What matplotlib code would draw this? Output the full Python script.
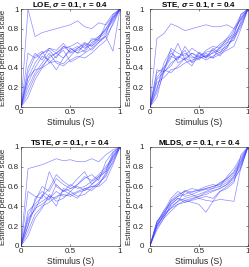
import numpy as np
from matplotlib import pyplot as plt

plt.rcParams['font.family'] = ['Liberation Sans', 'DejaVu Sans']
plt.rcParams['mathtext.fontset'] = 'custom'
plt.rcParams['mathtext.it'] = 'Liberation Sans:italic:bold'

stimulus = np.linspace(0, 1, 15)

titles = ["LOE", "STE", "TSTE", "MLDS"]
sigma = 0.1
r = 0.4

loe = [
    [0, 1.00, 0.72, 0.76, 0.78, 0.80, 0.82, 0.84, 0.88, 0.82, 0.80, 0.86, 0.84, 0.92, 1.0],
    [0, 0.30, 0.45, 0.55, 0.58, 0.50, 0.62, 0.60, 0.55, 0.65, 0.62, 0.70, 0.80, 0.90, 1.0],
    [0, 0.25, 0.40, 0.52, 0.48, 0.38, 0.50, 0.60, 0.55, 0.58, 0.70, 0.68, 0.85, 0.95, 1.0],
    [0, 0.55, 0.50, 0.55, 0.60, 0.55, 0.60, 0.62, 0.66, 0.60, 0.64, 0.72, 0.78, 0.88, 1.0],
    [0, 0.35, 0.52, 0.57, 0.45, 0.52, 0.58, 0.46, 0.50, 0.55, 0.60, 0.66, 0.74, 0.94, 1.0],
    [0, 0.20, 0.35, 0.45, 0.55, 0.45, 0.42, 0.48, 0.52, 0.50, 0.55, 0.62, 0.68, 0.86, 1.0],
    [0, 0.15, 0.32, 0.42, 0.50, 0.55, 0.62, 0.56, 0.60, 0.66, 0.62, 0.68, 0.72, 0.57, 1.0],
    [0, 0.30, 0.38, 0.40, 0.45, 0.47, 0.44, 0.52, 0.60, 0.64, 0.58, 0.66, 0.72, 0.84, 1.0],
    [0, 0.10, 0.28, 0.40, 0.52, 0.55, 0.50, 0.58, 0.62, 0.56, 0.66, 0.70, 0.76, 0.90, 1.0],
    [0, 0.40, 0.55, 0.48, 0.60, 0.58, 0.65, 0.55, 0.58, 0.62, 0.68, 0.72, 0.80, 0.92, 1.0],
]

ste = [
    [0, 0.70, 0.75, 0.85, 0.82, 0.78, 0.80, 0.82, 0.84, 0.82, 0.82, 0.84, 0.80, 0.90, 1.0],
    [0, 0.35, 0.40, 0.55, 0.50, 0.58, 0.45, 0.50, 0.52, 0.55, 0.58, 0.62, 0.70, 0.82, 1.0],
    [0, 0.20, 0.38, 0.50, 0.65, 0.48, 0.42, 0.55, 0.50, 0.60, 0.55, 0.65, 0.78, 0.90, 1.0],
    [0, 0.30, 0.40, 0.52, 0.48, 0.62, 0.52, 0.48, 0.55, 0.50, 0.62, 0.68, 0.72, 0.86, 1.0],
    [0, 0.15, 0.35, 0.45, 0.50, 0.55, 0.50, 0.52, 0.48, 0.52, 0.56, 0.60, 0.75, 0.92, 1.0],
    [0, 0.25, 0.30, 0.38, 0.40, 0.45, 0.48, 0.50, 0.52, 0.50, 0.54, 0.58, 0.62, 0.80, 1.0],
    [0, 0.10, 0.38, 0.35, 0.42, 0.50, 0.55, 0.50, 0.58, 0.62, 0.60, 0.70, 0.74, 0.95, 1.0],
    [0, 0.38, 0.36, 0.60, 0.55, 0.52, 0.60, 0.55, 0.50, 0.56, 0.60, 0.66, 0.68, 0.88, 1.0],
    [0, 0.18, 0.45, 0.58, 0.45, 0.50, 0.46, 0.56, 0.52, 0.58, 0.64, 0.70, 0.80, 0.94, 1.0],
    [0, 0.28, 0.36, 0.42, 0.52, 0.48, 0.55, 0.52, 0.56, 0.58, 0.52, 0.62, 0.72, 0.84, 1.0],
]

tste = [
    [0, 0.78, 0.80, 0.82, 0.85, 0.88, 0.86, 0.87, 0.85, 0.85, 0.88, 0.85, 0.92, 0.97, 1.0],
    [0, 0.30, 0.45, 0.60, 0.55, 0.68, 0.62, 0.58, 0.62, 0.70, 0.66, 0.72, 0.80, 0.90, 1.0],
    [0, 0.55, 0.50, 0.48, 0.75, 0.60, 0.55, 0.62, 0.58, 0.60, 0.65, 0.70, 0.75, 0.92, 1.0],
    [0, 0.20, 0.40, 0.45, 0.50, 0.40, 0.58, 0.55, 0.62, 0.68, 0.72, 0.66, 0.85, 0.95, 1.0],
    [0, 0.25, 0.38, 0.42, 0.48, 0.55, 0.50, 0.52, 0.55, 0.58, 0.56, 0.62, 0.72, 0.90, 1.0],
    [0, 0.15, 0.32, 0.40, 0.44, 0.50, 0.52, 0.50, 0.54, 0.56, 0.60, 0.60, 0.66, 0.82, 1.0],
    [0, 0.35, 0.42, 0.50, 0.58, 0.72, 0.65, 0.60, 0.68, 0.75, 0.62, 0.70, 0.78, 0.88, 1.0],
    [0, 0.10, 0.28, 0.38, 0.52, 0.45, 0.48, 0.55, 0.50, 0.52, 0.58, 0.64, 0.70, 0.86, 1.0],
    [0, 0.28, 0.36, 0.52, 0.46, 0.62, 0.55, 0.58, 0.60, 0.56, 0.62, 0.68, 0.76, 0.94, 1.0],
    [0, 0.20, 0.48, 0.55, 0.50, 0.48, 0.56, 0.52, 0.48, 0.58, 0.60, 0.62, 0.74, 0.84, 1.0],
]

mlds = [
    [0, 0.25, 0.32, 0.45, 0.50, 0.52, 0.55, 0.56, 0.58, 0.60, 0.62, 0.66, 0.72, 0.85, 1.0],
    [0, 0.22, 0.35, 0.48, 0.55, 0.50, 0.52, 0.55, 0.57, 0.58, 0.64, 0.68, 0.75, 0.88, 1.0],
    [0, 0.20, 0.30, 0.40, 0.45, 0.48, 0.50, 0.52, 0.55, 0.58, 0.60, 0.64, 0.70, 0.82, 1.0],
    [0, 0.18, 0.28, 0.35, 0.42, 0.46, 0.48, 0.50, 0.52, 0.55, 0.58, 0.62, 0.68, 0.78, 1.0],
    [0, 0.24, 0.34, 0.42, 0.48, 0.46, 0.44, 0.42, 0.34, 0.45, 0.55, 0.60, 0.66, 0.80, 1.0],
    [0, 0.22, 0.30, 0.38, 0.45, 0.55, 0.52, 0.48, 0.46, 0.45, 0.47, 0.46, 0.45, 0.80, 1.0],
    [0, 0.20, 0.32, 0.46, 0.52, 0.55, 0.58, 0.56, 0.58, 0.60, 0.63, 0.68, 0.74, 0.86, 1.0],
    [0, 0.24, 0.36, 0.44, 0.50, 0.56, 0.54, 0.57, 0.60, 0.62, 0.60, 0.70, 0.78, 0.90, 1.0],
    [0, 0.16, 0.28, 0.42, 0.48, 0.44, 0.47, 0.50, 0.54, 0.56, 0.58, 0.62, 0.70, 0.84, 1.0],
    [0, 0.20, 0.32, 0.38, 0.42, 0.44, 0.46, 0.48, 0.50, 0.48, 0.55, 0.58, 0.64, 0.92, 1.0],
]

all_data = [loe, ste, tste, mlds]

fig = plt.figure(figsize=(2.49, 2.67), dpi=100)
# [left, bottom, width, height] in figure fraction
boxes = [
    [0.084, 0.599, 0.398, 0.367],
    [0.602, 0.599, 0.394, 0.367],
    [0.084, 0.079, 0.398, 0.371],
    [0.602, 0.079, 0.394, 0.371],
]
# left column sits tight against the page edge, right column has more room
tick_pads = [1.5, 4.5, 1.5, 4.5]
label_x = [-0.14, -0.175, -0.14, -0.175]

for box, name, data, tp, lx in zip(boxes, titles, all_data, tick_pads, label_x):
    ax = fig.add_axes(box)
    for line in data:
        ax.plot(stimulus, line, color=(0.25, 0.25, 1.0), alpha=0.6, lw=0.5)
    ax.set_xlim(0, 1)
    ax.set_ylim(0, 1)
    ax.set_xticks([0, 0.5, 1])
    ax.set_xticklabels(["0", "0.5", "1"])
    ax.set_yticks([0, 0.2, 0.4, 0.6, 0.8, 1])
    ax.set_yticklabels(["0", "0.2", "0.4", "0.6", "0.8", "1"])
    ax.tick_params(direction="in", length=1.5, width=0.4, labelsize=5.8,
                   top=True, right=True, pad=1.5, colors="0.15")
    ax.tick_params(axis="y", pad=tp)
    for s in ax.spines.values():
        s.set_linewidth(0.4)
        s.set_color("0.15")
    ax.set_title(name + r", $\sigma$ = " + str(sigma) + ", r = " + str(r),
                 fontsize=5.8, fontweight="bold", pad=1.5)
    ax.set_xlabel("Stimulus (S)", fontsize=6.2, labelpad=1.5, color="0.15")
    ax.set_ylabel("Estimated perceptual scale", fontsize=5.8, color="0.15")
    ax.yaxis.set_label_coords(lx, 0.5)

fig.savefig("out.png", dpi=100)
